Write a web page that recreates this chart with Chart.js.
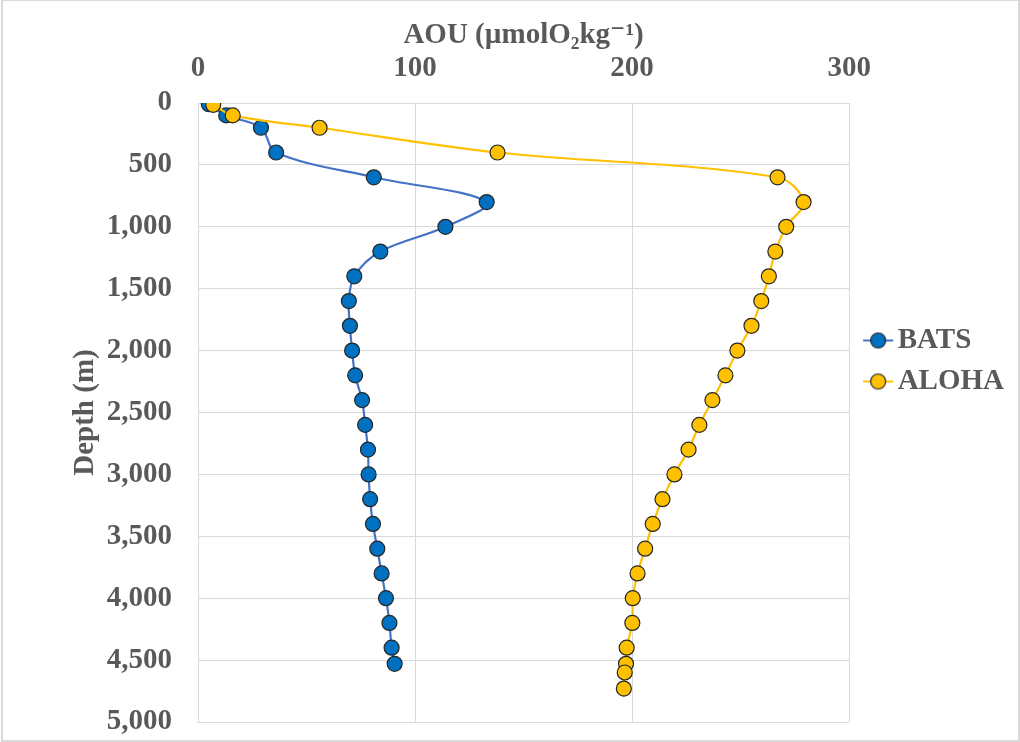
<!DOCTYPE html>
<html>
<head>
<meta charset="utf-8">
<script src="https://cdn.jsdelivr.net/npm/chart.js@4"></script>
<style>
  body { margin: 0; background: #fff; }
  canvas { display: block; }
</style>
</head>
<body>
<canvas id="aouChart" width="1020" height="742"></canvas>
<script>
// depth (m) and AOU values
const batsDepth = [10, 100, 200, 400, 600, 800, 1000, 1200, 1400, 1600, 1800, 2000, 2200, 2400, 2600, 2800, 3000, 3200, 3400, 3600, 3800, 4000, 4200, 4400, 4530];
const batsAou = [5, 13, 29, 36, 81, 133, 114, 84, 72, 69.5, 70, 71, 72.4, 75.6, 77, 78.3, 78.6, 79.3, 80.6, 82.6, 84.6, 86.6, 88.2, 89.2, 90.6];
const alohaDepth = [15, 100, 200, 400, 600, 800, 1000, 1200, 1400, 1600, 1800, 2000, 2200, 2400, 2600, 2800, 3000, 3200, 3400, 3600, 3800, 4000, 4200, 4400, 4530, 4600, 4730];
const alohaAou = [7, 16, 56, 138, 267, 279, 271, 266, 263, 259.5, 255, 248.5, 243, 237, 231, 226, 219.5, 214, 209.5, 206, 202.5, 200.3, 200.1, 197.5, 197.2, 196.6, 196.2];
const seriesNames = ["BATS", "ALOHA"];

const textColor = "#595959";
const gridColor = "#d9d9d9";
const serif = "'Liberation Serif', 'Times New Roman', 'DejaVu Serif', serif";

function toPoints(xs, ys) {
  return xs.map((x, i) => ({ x: x, y: ys[i] }));
}

// little line + marker picture for the legend
function legendMark(lineColor, fill) {
  const c = document.createElement("canvas");
  c.width = 44;
  c.height = 20;
  const g = c.getContext("2d");
  const cx = 28;
  g.strokeStyle = lineColor;
  g.lineWidth = 2;
  g.beginPath();
  g.moveTo(cx - 15, 10);
  g.lineTo(cx + 15, 10);
  g.stroke();
  g.beginPath();
  g.arc(cx, 10, 7.5, 0, Math.PI * 2);
  g.fillStyle = fill;
  g.fill();
  g.lineWidth = 1.2;
  g.strokeStyle = "#262626";
  g.stroke();
  return c;
}

const frame = {
  id: "frame",
  beforeDraw(chart) {
    const ctx = chart.ctx;
    ctx.save();
    ctx.fillStyle = "#fff";
    ctx.fillRect(0, 0, chart.width, chart.height);
    ctx.restore();
  },
  afterDraw(chart) {
    const ctx = chart.ctx;
    ctx.save();
    ctx.strokeStyle = gridColor;
    ctx.lineWidth = 2;
    ctx.strokeRect(2, 0, chart.width - 3, chart.height - 1);
    ctx.restore();
  }
};

const marks = [legendMark("#4472C4", "#0070C0"), legendMark("#FFC000", "#FFC000")];

new Chart(document.getElementById("aouChart"), {
  type: "line",
  data: {
    datasets: [
      {
        label: seriesNames[0],
        data: toPoints(batsAou, batsDepth),
        borderColor: "#4472C4",
        backgroundColor: "#0070C0",
        borderWidth: 2.2,
        pointRadius: 7.5,
        pointBorderWidth: 1.2,
        pointBorderColor: "#262626",
        pointBackgroundColor: "#0070C0",
        tension: 0.35,
        order: 1
      },
      {
        label: seriesNames[1],
        data: toPoints(alohaAou, alohaDepth),
        borderColor: "#FFC000",
        backgroundColor: "#FFC000",
        borderWidth: 2.2,
        pointRadius: 7.5,
        pointBorderWidth: 1.2,
        pointBorderColor: "#262626",
        pointBackgroundColor: "#FFC000",
        tension: 0.35,
        order: 0
      }
    ]
  },
  options: {
    responsive: false,
    animation: false,
    layout: { padding: { top: 0, left: 0, right: 6, bottom: 20 } },
    scales: {
      x: {
        type: "linear",
        position: "top",
        min: 0,
        max: 300,
        ticks: {
          stepSize: 100,
          padding: 17,
          color: textColor,
          font: { family: serif, size: 29, weight: "bold" }
        },
        grid: { color: gridColor, drawTicks: false },
        border: { color: gridColor },
        title: {
          display: true,
          text: "AOU (µmolO₂kg⁻¹)",
          color: textColor,
          padding: { top: 18, bottom: 0 },
          font: { family: serif, size: 29, weight: "bold" }
        },
        afterFit: (scale) => {
          scale.height = 103;
          scale.paddingLeft = 0;
          scale.paddingRight = 0;
        }
      },
      y: {
        type: "linear",
        reverse: true,
        min: 0,
        max: 5000,
        ticks: {
          stepSize: 500,
          padding: 26,
          color: textColor,
          font: { family: serif, size: 29, weight: "bold" }
        },
        grid: { color: gridColor, drawTicks: false },
        border: { color: gridColor },
        title: {
          display: true,
          text: "Depth (m)",
          color: textColor,
          padding: { top: 68, bottom: 0 },
          font: { family: serif, size: 29, weight: "bold" }
        },
        afterFit: (scale) => {
          scale.width = 198;
          scale.paddingTop = 0;
          scale.paddingBottom = 0;
        }
      }
    },
    plugins: {
      tooltip: { enabled: false },
      legend: {
        position: "right",
        labels: {
          usePointStyle: true,
          pointStyleWidth: 22,
          padding: 12,
          color: textColor,
          font: { family: serif, size: 29, weight: "bold" },
          generateLabels(chart) {
            const items = Chart.defaults.plugins.legend.labels.generateLabels(chart);
            items.sort((a, b) => a.datasetIndex - b.datasetIndex);
            items.forEach(it => { it.pointStyle = marks[it.datasetIndex]; });
            return items;
          }
        }
      }
    }
  },
  plugins: [frame]
});
</script>
</body>
</html>
